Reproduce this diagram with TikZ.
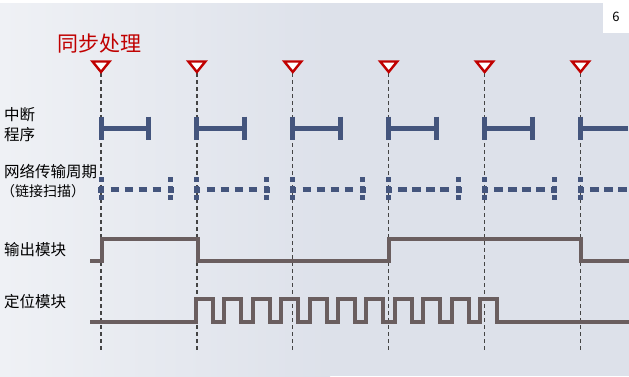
\documentclass[tikz,border=0pt]{standalone}
\usepackage{fontspec}
\usepackage{xcolor}
\newfontfamily\cjk{Noto Sans CJK SC}
\definecolor{syncred}{HTML}{C00000}
\definecolor{irqblue}{HTML}{44557D}
\definecolor{sigline}{HTML}{6A5E5F}
\definecolor{tickgray}{HTML}{444444}
\definecolor{bgleft}{HTML}{EFF1F5}
\definecolor{bgright}{HTML}{DDE1EA}
\tikzset{
  rowlabel/.style={anchor=west, inner sep=0pt, font=\cjk\fontsize{15.5}{18}\selectfont},
  synctick/.style={line width=1.3pt, tickgray, dash pattern=on 4pt off 3pt},
  syncmark/.style={line width=2.4pt, syncred, fill=white, line join=miter},
  irqbar/.style={line width=4.5pt, irqblue},
  netbar/.style={line width=4.7pt, irqblue, dash pattern=on 8.5pt off 5.5pt},
  netend/.style={line width=5pt, irqblue, dash pattern=on 4.5pt off 4.5pt},
  signal/.style={line width=4pt, sigline, line join=miter}
}

\begin{document}
\begin{tikzpicture}[x=1pt,y=-1pt]
  \useasboundingbox (0,0) rectangle (629,376);
  \fill[white] (0,0) rectangle (629,376);
  \shade[left color=bgleft, right color=bgright] (0,3) rectangle (330,376);
  \fill[bgright] (329,3) rectangle (629,376);
  \fill[white] (603,0) rectangle (629,33);
  \node[inner sep=0pt, font=\cjk\fontsize{13}{15}\selectfont] (page) at (616,17) {6};

  \node[inner sep=0pt, anchor=west, text=syncred, font=\cjk\fontsize{21}{24}\selectfont] (sync) at (57.5,43.5) {同步处理};

  \node[rowlabel] (irq) at (4,115) {中断};
  \node[rowlabel] (irqsub) at (4,135) {程序};
  \node[rowlabel] (net) at (4,171.5) {网络传输周期};
  \node[rowlabel, font=\cjk\fontsize{14}{16}\selectfont] (netsub) at (1,191) {（链接扫描）};
  \node[rowlabel] (out) at (4,250) {输出模块};
  \node[rowlabel] (pos) at (4,301.5) {定位模块};

  \foreach \i in {0,...,5}{
    \pgfmathsetmacro{\xx}{101+95.9*\i}
    \draw[synctick] (\xx,73) -- (\xx,350);
    \draw[syncmark] (\xx-8.5,61.5) -- (\xx+8.5,61.5) -- (\xx,72) -- cycle;
    \draw[irqbar] (\xx,128.3) -- (\xx+47.5,128.3);
    \draw[irqbar, line width=5pt] (\xx,116.7) -- (\xx,140);
    \draw[netend] (\xx,177.3) -- (\xx,201);
    \fill[irqblue] (\xx-3,186.5) rectangle (\xx+3,192.5);
    \draw[netbar] (\xx+9.7,189.5) -- (\xx+62,189.5);
    \ifnum\i<5
      \draw[irqbar, line width=5pt] (\xx+47.5,116.7) -- (\xx+47.5,140);
      \draw[netend] (\xx+69.8,177.3) -- (\xx+69.8,201);
      \fill[irqblue] (\xx+66.8,186.5) rectangle (\xx+72.8,192.5);
    \fi
  }

  \draw[signal] (90,261.3) -- (102,261.3) -- (102,238.8) -- (197.5,238.8) -- (197.5,261.3)
    -- (389,261.3) -- (389,238.8) -- (581,238.8) -- (581,261.3) -- (629,261.3);
  \draw[signal] (90,322.3) foreach \k in {0,...,10}{
      -- ({196+28.4*\k},322.3) -- ({196+28.4*\k},298.7)
      -- ({213+28.4*\k},298.7) -- ({213+28.4*\k},322.3)}
    -- (629,322.3);
\end{tikzpicture}
\end{document}
